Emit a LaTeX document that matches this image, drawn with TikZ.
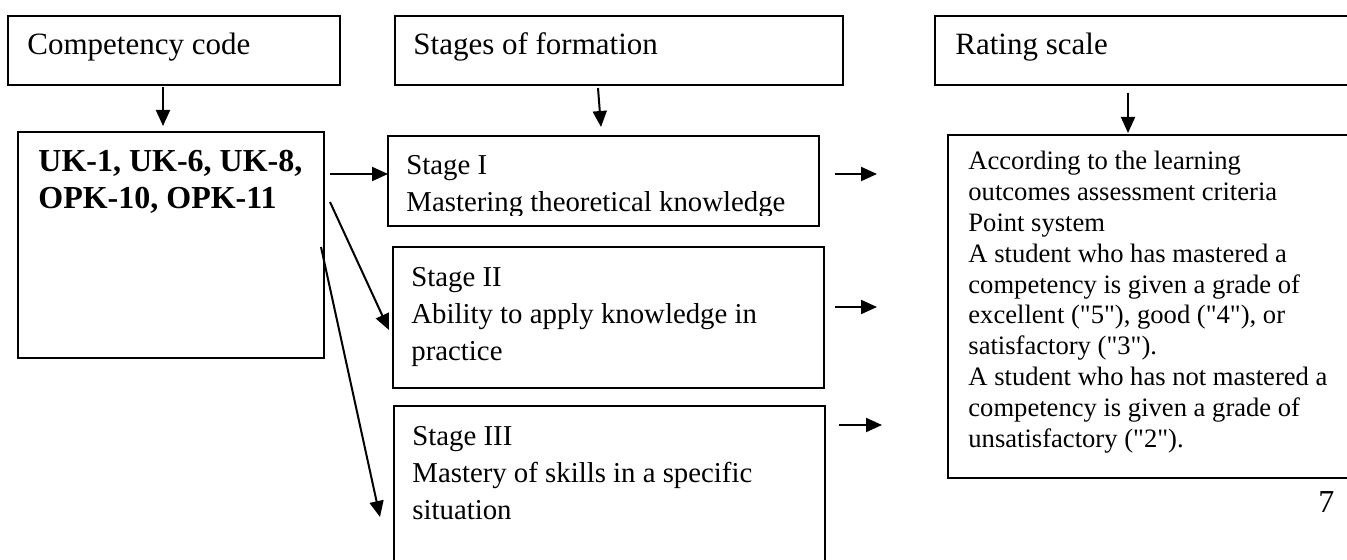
\documentclass[tikz,border=0pt]{standalone}
\usepackage{fontspec}
\setmainfont{Liberation Serif}
\usetikzlibrary{arrows.meta}
\newcommand{\mylines}[1]{\begin{tabular}[t]{@{}l@{}}#1\end{tabular}}
\newcommand{\qq}{\textquotedbl}
\begin{document}
\begin{tikzpicture}[x=0.5pt,y=-0.5pt,
  box/.style={draw, line width=1pt, inner sep=0pt, anchor=north west},
  txt/.style={inner sep=0pt, anchor=base west},
  conn/.style={line width=1pt, -{Triangle[length=8pt,width=7pt]}},
  hdr/.style={txt, font=\fontsize{15.5pt}{18pt}\selectfont},
  stg/.style={txt, font=\fontsize{14.4pt}{18.5pt}\selectfont},
  cod/.style={txt, font=\fontsize{16pt}{18.5pt}\selectfont\bfseries},
  rtg/.style={txt, font=\fontsize{13.3pt}{15.4pt}\selectfont},
]
\clip (0,0) rectangle (1347,560);
% header boxes
\node[box, minimum width=166pt, minimum height=34.5pt] (h1) at (7,15) {};
\node[box, minimum width=224pt, minimum height=34.5pt] (h2) at (394,15) {};
\node[box, minimum width=233pt, minimum height=34.5pt] (h3) at (934,15) {};
\node[hdr] (h1t) at (27,55) {Competency code};
\node[hdr] (h2t) at (413,55) {Stages of formation};
\node[hdr] (h3t) at (955,55) {Rating scale};
% main boxes
\node[box, minimum width=153pt, minimum height=113pt] (uk) at (17,131) {};
\node[box, minimum width=215.5pt, minimum height=45pt] (s1) at (387,135) {};
\node[box, minimum width=215.5pt, minimum height=70.5pt] (s2) at (392,246) {};
\node[box, minimum width=215.5pt, minimum height=107.5pt] (s3) at (393,405) {};
\node[box, minimum width=226.5pt, minimum height=171.5pt] (rt) at (947,134) {};
% texts
\node[cod] (ukt) at (38,172) {\mylines{UK-1, UK-6, UK-8,\\OPK-10, OPK-11}};
\begin{scope}
  \clip (387,135) rectangle (818,216);
  \node[stg] (s1t) at (406,175) {\mylines{Stage I\\Mastering theoretical knowledge}};
\end{scope}
\node[stg] (s2t) at (411,287) {\mylines{Stage II\\Ability to apply knowledge in\\practice}};
\node[stg] (s3t) at (412,445) {\mylines{Stage III\\Mastery of skills in a specific\\situation}};
\node[rtg] (rtt) at (968,170) {\mylines{According to the learning\\outcomes assessment criteria\\Point system\\A student who has mastered a\\competency is given a grade of\\excellent (\qq5\qq), good (\qq4\qq), or\\satisfactory (\qq3\qq).\\A student who has not mastered a\\competency is given a grade of\\unsatisfactory (\qq2\qq).}};
\node[txt, font=\fontsize{16pt}{18pt}\selectfont] (pg) at (1318,512) {7};
% connector end points
\coordinate (a1s) at (163,87);  \coordinate (a1e) at (163,126);
\coordinate (a2s) at (598,88);  \coordinate (a2e) at (601,127);
\coordinate (a3s) at (1128,93); \coordinate (a3e) at (1128,133);
\coordinate (b1s) at (330,174); \coordinate (b1e) at (388,174);
\coordinate (b2s) at (330,202); \coordinate (b2e) at (389,330);
\coordinate (b3s) at (321,247); \coordinate (b3e) at (380,517);
\coordinate (c1s) at (835,174); \coordinate (c1e) at (877,174);
\coordinate (c2s) at (835,307); \coordinate (c2e) at (877,307);
\coordinate (c3s) at (839,425); \coordinate (c3e) at (882,425);
% connectors
\draw[conn] (a1s) -- (a1e);
\draw[conn] (a2s) -- (a2e);
\draw[conn] (a3s) -- (a3e);
\draw[conn] (b1s) -- (b1e);
\draw[conn] (b2s) -- (b2e);
\draw[conn] (b3s) -- (b3e);
\draw[conn] (c1s) -- (c1e);
\draw[conn] (c2s) -- (c2e);
\draw[conn] (c3s) -- (c3e);
\end{tikzpicture}
\end{document}
